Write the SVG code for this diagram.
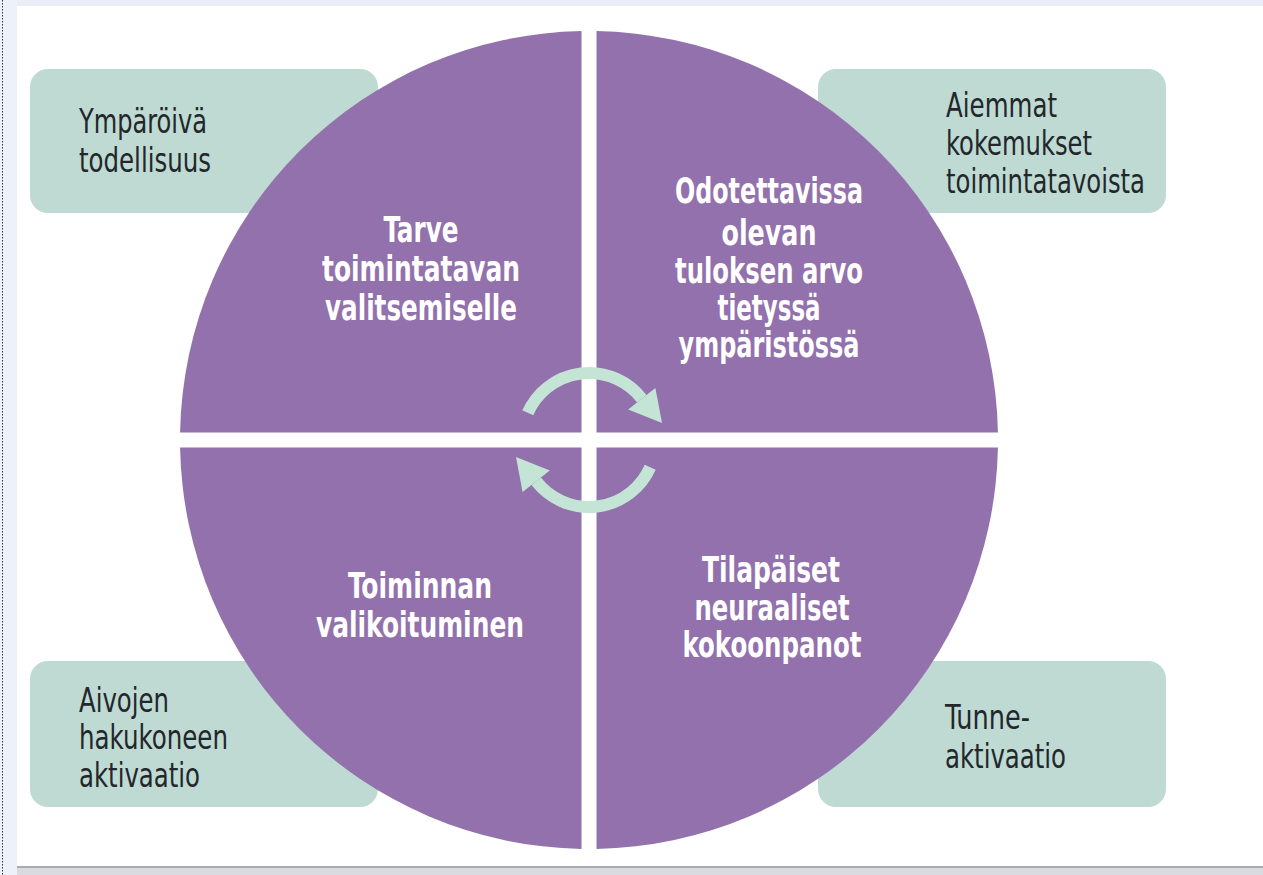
<svg xmlns="http://www.w3.org/2000/svg" width="1263" height="875" viewBox="0 0 1263 875">
<style>
.box{fill:#bedad3}
.quad{fill:#9271ad}
.bt{font-family:"DejaVu Sans Condensed","Liberation Sans",sans-serif;font-size:34px;fill:#23272b}
.ct{font-family:"DejaVu Sans Condensed","Liberation Sans",sans-serif;font-size:35px;font-weight:bold;fill:#ffffff;text-anchor:middle}
.arc{fill:none;stroke:#c4e5d5;stroke-width:12}
.head{fill:#c4e5d5}
</style>
<rect x="0" y="0" width="1263" height="875" fill="#ffffff"/>
<rect x="0" y="0" width="1263" height="6" fill="#e9eef8"/>
<rect x="0" y="0" width="17" height="875" fill="#edf1f9"/>
<line x1="2.5" y1="0" x2="2.5" y2="875" stroke="#333" stroke-width="1" stroke-dasharray="1.5 1.5"/>
<rect x="17" y="866" width="1246" height="2" fill="#a8aab0"/>
<rect x="17" y="868" width="1246" height="7" fill="#d9dbe0"/>

<g id="box-ymparoiva">
<rect class="box" x="30" y="69" width="348" height="144" rx="18"/>
<text class="bt" x="79" y="133" textLength="128" lengthAdjust="spacingAndGlyphs">Ympäröivä</text>
<text class="bt" x="79" y="172" textLength="132" lengthAdjust="spacingAndGlyphs">todellisuus</text>
</g>
<g id="box-aiemmat">
<rect class="box" x="818" y="69" width="348" height="144" rx="18"/>
<text class="bt" x="946" y="117" textLength="111" lengthAdjust="spacingAndGlyphs">Aiemmat</text>
<text class="bt" x="946" y="155" textLength="146" lengthAdjust="spacingAndGlyphs">kokemukset</text>
<text class="bt" x="946" y="193" textLength="199" lengthAdjust="spacingAndGlyphs">toimintatavoista</text>
</g>
<g id="box-aivojen">
<rect class="box" x="30" y="661" width="348" height="146" rx="18"/>
<text class="bt" x="79" y="712" textLength="90" lengthAdjust="spacingAndGlyphs">Aivojen</text>
<text class="bt" x="79" y="749" textLength="149" lengthAdjust="spacingAndGlyphs">hakukoneen</text>
<text class="bt" x="79" y="787" textLength="121" lengthAdjust="spacingAndGlyphs">aktivaatio</text>
</g>
<g id="box-tunne">
<rect class="box" x="818" y="661" width="348" height="146" rx="18"/>
<text class="bt" x="945" y="729" textLength="85" lengthAdjust="spacingAndGlyphs">Tunne-</text>
<text class="bt" x="945" y="768" textLength="121" lengthAdjust="spacingAndGlyphs">aktivaatio</text>
</g>

<g id="q-tarve">
<path class="quad" d="M581.5 432.5 V31.07 A409 409 0 0 0 180.07 432.5 Z"/>
<text class="ct" x="421" y="242" textLength="75" lengthAdjust="spacingAndGlyphs">Tarve</text>
<text class="ct" x="421" y="281" textLength="198" lengthAdjust="spacingAndGlyphs">toimintatavan</text>
<text class="ct" x="421" y="320" textLength="192" lengthAdjust="spacingAndGlyphs">valitsemiselle</text>
</g>
<g id="q-odotettavissa">
<path class="quad" d="M596.5 432.5 V31.07 A409 409 0 0 1 997.93 432.5 Z"/>
<text class="ct" x="769" y="203" textLength="188" lengthAdjust="spacingAndGlyphs">Odotettavissa</text>
<text class="ct" x="769" y="245" textLength="95" lengthAdjust="spacingAndGlyphs">olevan</text>
<text class="ct" x="769" y="283" textLength="188" lengthAdjust="spacingAndGlyphs">tuloksen arvo</text>
<text class="ct" x="769" y="320" textLength="103" lengthAdjust="spacingAndGlyphs">tietyssä</text>
<text class="ct" x="769" y="357" textLength="181" lengthAdjust="spacingAndGlyphs">ympäristössä</text>
</g>
<g id="q-toiminnan">
<path class="quad" d="M581.5 447.5 V848.93 A409 409 0 0 1 180.07 447.5 Z"/>
<text class="ct" x="420" y="598" textLength="144" lengthAdjust="spacingAndGlyphs">Toiminnan</text>
<text class="ct" x="420" y="637" textLength="208" lengthAdjust="spacingAndGlyphs">valikoituminen</text>
</g>
<g id="q-tilapaiset">
<path class="quad" d="M596.5 447.5 V848.93 A409 409 0 0 0 997.93 447.5 Z"/>
<text class="ct" x="771" y="582" textLength="138" lengthAdjust="spacingAndGlyphs">Tilapäiset</text>
<text class="ct" x="772" y="620" textLength="155" lengthAdjust="spacingAndGlyphs">neuraaliset</text>
<text class="ct" x="772" y="657" textLength="179" lengthAdjust="spacingAndGlyphs">kokoonpanot</text>
</g>

<g id="connectors">
<path class="arc" d="M527.8 412.8 A67 67 0 0 1 641.8 398.7"/>
<polygon class="head" points="655.4,388 628.2,409.4 662,423"/>
<path class="arc" d="M650.2 467.2 A67 67 0 0 1 536.2 481.3"/>
<polygon class="head" points="522.6,492 549.8,470.6 516,457"/>
</g>
</svg>
